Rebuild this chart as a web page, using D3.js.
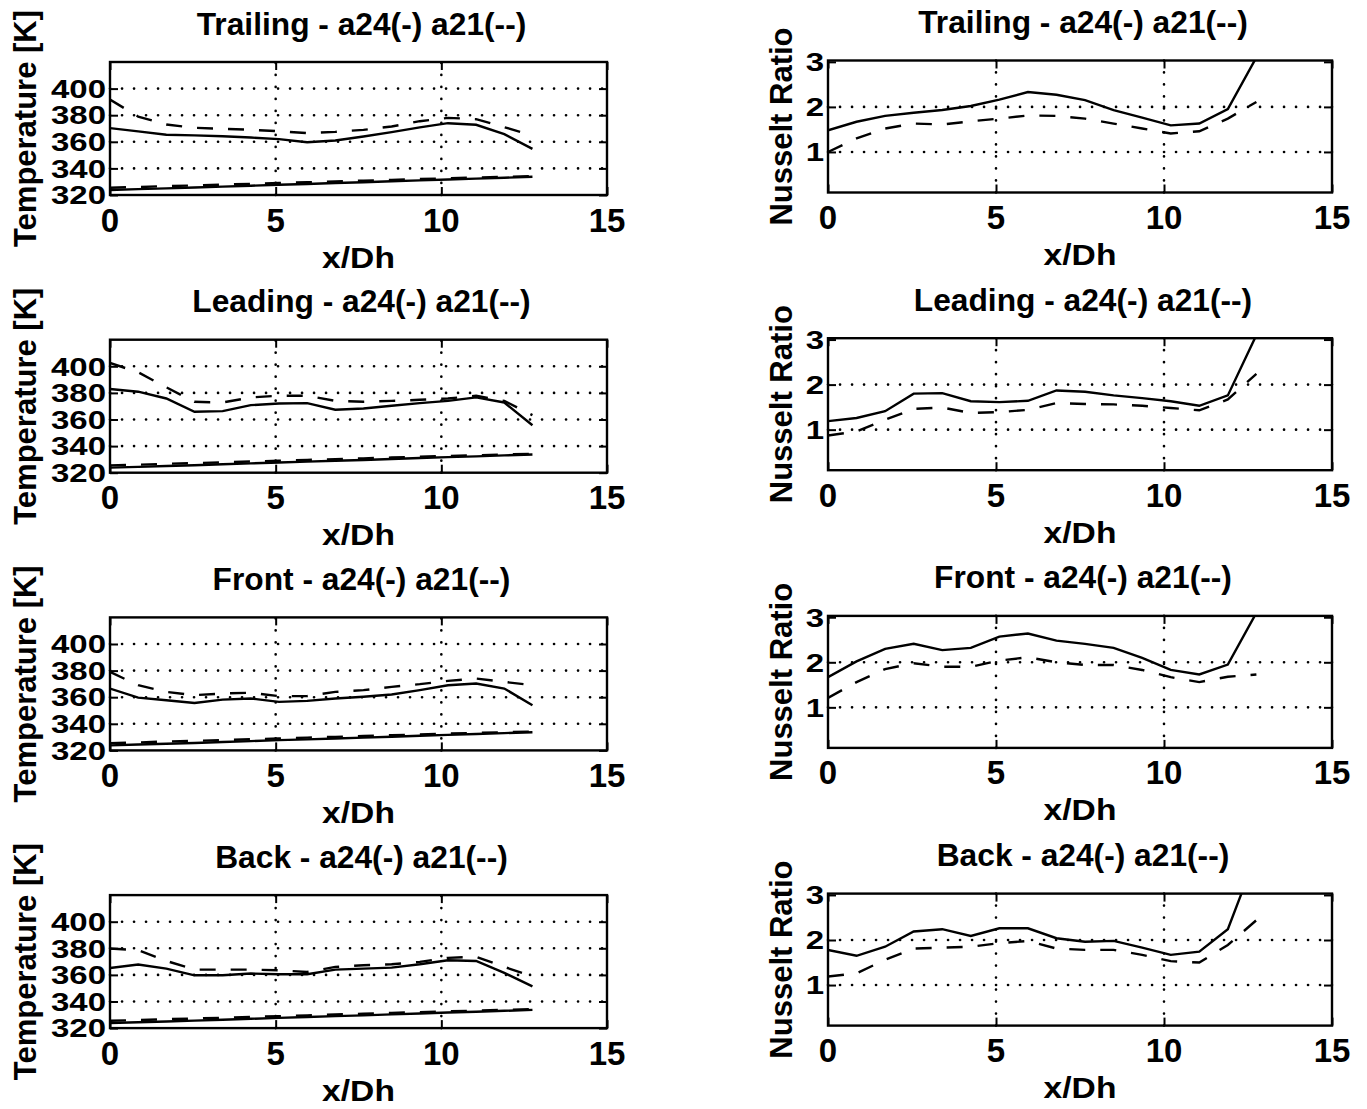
<!DOCTYPE html>
<html>
<head>
<meta charset="utf-8">
<script src="https://cdn.jsdelivr.net/npm/d3@7"></script>
<style>
  html, body { margin: 0; padding: 0; background: #fff; }
  svg text { font-family: "Liberation Sans", Arial, Helvetica, sans-serif; font-weight: bold; fill: #000; }
</style>
</head>
<body>
<svg id="chart" width="1367" height="1109"></svg>
<script>
// ---------------- data ----------------
const xStations = [0, 0.85, 1.7, 2.55, 3.4, 4.25, 5.1, 5.95, 6.8, 7.65, 8.5, 9.35, 10.2, 11.05, 11.9, 12.75];
const xTicks = [0, 5, 10, 15];
const tempTicks = [320, 340, 360, 380, 400];
const nuTicks = [1, 2, 3];
const panelNames = ["Trailing", "Leading", "Front", "Back"];
const titleSuffix = " - a24(-) a21(--)";

// fluid (bulk) temperatures, nearly the same in every panel
const fluid24 = [323.8, 324.4, 325.0, 325.6, 326.3, 327.0, 327.7, 328.3, 329.0, 329.6, 330.3, 331.0, 331.7, 332.3, 333.0, 333.7];
const fluid21 = [325.5, 326.0, 326.7, 327.2, 327.8, 328.4, 329.0, 329.6, 330.2, 330.8, 331.4, 332.0, 332.6, 333.1, 333.7, 334.2];

// wall temperatures [K]
const tempTrailing24 = [370.3, 367.8, 365.3, 364.8, 364.2, 363.2, 362.0, 359.7, 361.0, 364.0, 367.3, 370.8, 374.0, 372.8, 365.8, 354.7];
const tempTrailing21 = [391.7, 379.0, 373.0, 370.5, 369.8, 369.0, 368.0, 366.5, 367.5, 369.0, 371.5, 375.5, 378.0, 377.0, 371.0, 364.8];
const tempLeading24  = [382.9, 380.9, 375.8, 365.8, 366.3, 370.8, 372.0, 372.3, 367.3, 368.3, 370.3, 372.3, 374.0, 376.6, 372.8, 355.7];
const tempLeading21  = [402.5, 395.5, 384.2, 373.3, 372.8, 376.6, 377.9, 377.9, 374.0, 373.3, 374.0, 374.8, 375.8, 377.9, 374.0, 363.3];
const tempFront24    = [366.5, 359.7, 357.7, 355.7, 358.2, 359.0, 356.5, 357.2, 359.0, 360.3, 362.0, 365.3, 369.0, 370.3, 366.5, 354.0];
const tempFront21    = [379.0, 369.0, 364.0, 361.5, 362.8, 363.3, 360.8, 360.8, 364.0, 365.3, 367.8, 369.8, 372.3, 374.0, 371.5, 369.0];
const tempBack24     = [365.2, 367.8, 364.7, 359.7, 359.7, 361.0, 360.5, 360.5, 364.0, 364.7, 365.5, 368.0, 371.0, 370.5, 361.5, 351.4];
const tempBack21     = [379.8, 378.6, 370.5, 364.0, 364.0, 364.0, 363.5, 362.2, 366.0, 367.3, 368.0, 369.8, 372.8, 373.6, 366.0, 359.0];

// Nusselt ratios
const nuTrailing24 = [1.48, 1.67, 1.80, 1.87, 1.93, 2.02, 2.16, 2.33, 2.27, 2.15, 1.93, 1.76, 1.59, 1.63, 1.95, 3.10];
const nuTrailing21 = [1.00, 1.30, 1.52, 1.63, 1.61, 1.68, 1.74, 1.81, 1.80, 1.74, 1.63, 1.52, 1.41, 1.46, 1.74, 2.11];
const nuLeading24  = [1.19, 1.26, 1.41, 1.80, 1.81, 1.63, 1.61, 1.64, 1.87, 1.84, 1.76, 1.70, 1.63, 1.53, 1.76, 3.10];
const nuLeading21  = [0.87, 0.96, 1.22, 1.46, 1.49, 1.37, 1.39, 1.44, 1.59, 1.57, 1.56, 1.53, 1.48, 1.43, 1.67, 2.24];
const nuFront24    = [1.67, 2.02, 2.30, 2.41, 2.27, 2.32, 2.57, 2.64, 2.48, 2.41, 2.32, 2.10, 1.83, 1.73, 1.95, 3.10];
const nuFront21    = [1.21, 1.56, 1.85, 1.98, 1.90, 1.90, 2.04, 2.11, 2.00, 1.94, 1.94, 1.83, 1.67, 1.56, 1.68, 1.73];
const nuBack24     = [1.78, 1.65, 1.85, 2.19, 2.24, 2.09, 2.26, 2.26, 2.04, 1.96, 1.98, 1.83, 1.67, 1.74, 2.24, 3.90];
const nuBack21     = [1.19, 1.26, 1.56, 1.81, 1.83, 1.85, 1.93, 1.98, 1.81, 1.78, 1.78, 1.67, 1.53, 1.50, 1.89, 2.44];

const tempWall24 = [tempTrailing24, tempLeading24, tempFront24, tempBack24];
const tempWall21 = [tempTrailing21, tempLeading21, tempFront21, tempBack21];
const nu24 = [nuTrailing24, nuLeading24, nuFront24, nuBack24];
const nu21 = [nuTrailing21, nuLeading21, nuFront21, nuBack21];

// ---------------- layout ----------------
const svg = d3.select("#chart");
const rowStep = 277.7;
const leftCol  = { x0: 110, x1: 607, top: 62, h: 133 };
const rightCol = { x0: 828, x1: 1332, top: 60.5, h: 132 };

function addText(g, str, x, y, opts) {
  const sx = opts.sx || 1, sy = opts.sy || 1, rot = opts.rot || 0;
  g.append("text")
    .attr("transform", `translate(${x},${y}) rotate(${rot}) scale(${sx},${sy})`)
    .attr("text-anchor", opts.anchor || "middle")
    .style("font-size", opts.size + "px")
    .text(str);
}

let clipId = 0;
function panel(col, row, yDomain, yTicks, yGrid, series, yLabel, title, yTickSy, yLabelX) {
  const top = col.top + row * rowStep;
  const bottom = top + col.h;
  const x = d3.scaleLinear().domain([0, 15]).range([col.x0, col.x1]);
  const y = d3.scaleLinear().domain(yDomain).range([bottom, top]);
  const g = svg.append("g");

  // grid (dotted)
  const gridStyle = s => s.attr("stroke", "#000").attr("stroke-width", 2.6)
    .attr("stroke-linecap", "round").attr("stroke-dasharray", "0.1,11.9").attr("fill", "none");
  g.selectAll(".vg").data([5, 10]).enter().append("line")
    .attr("x1", d => x(d)).attr("x2", d => x(d)).attr("y1", bottom).attr("y2", top)
    .call(gridStyle);
  g.selectAll(".hg").data(yGrid).enter().append("line")
    .attr("x1", col.x0).attr("x2", col.x1).attr("y1", d => y(d)).attr("y2", d => y(d))
    .call(gridStyle);

  // data lines
  const id = "clip" + (clipId++);
  g.append("clipPath").attr("id", id).append("rect")
    .attr("x", col.x0).attr("y", top).attr("width", col.x1 - col.x0).attr("height", col.h);
  const line = d3.line().x((d, i) => x(xStations[i])).y(d => y(d));
  series.forEach(s => {
    g.append("path").datum(s.values)
      .attr("clip-path", `url(#${id})`)
      .attr("d", line)
      .attr("fill", "none").attr("stroke", "#000").attr("stroke-width", 2.4)
      .attr("stroke-dasharray", s.dashed ? "16,15" : null);
  });

  // axes with inward ticks
  const xAxisB = d3.axisBottom(x).tickValues(xTicks).tickSizeInner(-8).tickSizeOuter(0).tickFormat("");
  const xAxisT = d3.axisTop(x).tickValues(xTicks).tickSizeInner(-8).tickSizeOuter(0).tickFormat("");
  const yAxisL = d3.axisLeft(y).tickValues(yTicks).tickSizeInner(-8).tickSizeOuter(0).tickFormat("");
  const yAxisR = d3.axisRight(y).tickValues(yTicks).tickSizeInner(-8).tickSizeOuter(0).tickFormat("");
  [[xAxisB, `translate(0,${bottom})`], [xAxisT, `translate(0,${top})`],
   [yAxisL, `translate(${col.x0},0)`], [yAxisR, `translate(${col.x1},0)`]].forEach(([ax, tr]) => {
    const a = g.append("g").attr("transform", tr).call(ax);
    a.select(".domain").remove();
    a.selectAll("line").attr("stroke", "#000").attr("stroke-width", 2);
  });

  // box
  g.append("rect").attr("x", col.x0).attr("y", top)
    .attr("width", col.x1 - col.x0).attr("height", col.h)
    .attr("fill", "none").attr("stroke", "#000").attr("stroke-width", 2.4);

  // tick labels
  xTicks.forEach(t => addText(g, String(t), x(t), bottom + 36.5, { size: 33 }));
  yTicks.forEach(t => {
    const fs = 33;
    addText(g, String(t), col.x0 - 4, y(t) + 0.36 * fs * yTickSy, { size: fs, sy: yTickSy, anchor: "end" });
  });

  // labels
  addText(g, "x/Dh", (col.x0 + col.x1) / 2, bottom + 72.5, { size: 30, sx: 1.12 });
  addText(g, yLabel, yLabelX, (top + bottom) / 2, { size: 31, rot: -90 });
  addText(g, title, (col.x0 + col.x1) / 2 + 3, top - 27.5, { size: 30.5, sx: 1.04 });
}

for (let r = 0; r < 4; r++) {
  const title = panelNames[r] + titleSuffix;
  panel(leftCol, r, [320, 420], tempTicks, [340, 360, 380, 400], [
    { values: tempWall24[r], dashed: false },
    { values: tempWall21[r], dashed: true },
    { values: fluid24, dashed: false },
    { values: fluid21, dashed: true }
  ], "Temperature [K]", title, 0.78, 36);
  panel(rightCol, r, [0.1, 3.03], nuTicks, [1, 2], [
    { values: nu24[r], dashed: false },
    { values: nu21[r], dashed: true }
  ], "Nusselt Ratio", title, 0.78, 792);
}
</script>
</body>
</html>
